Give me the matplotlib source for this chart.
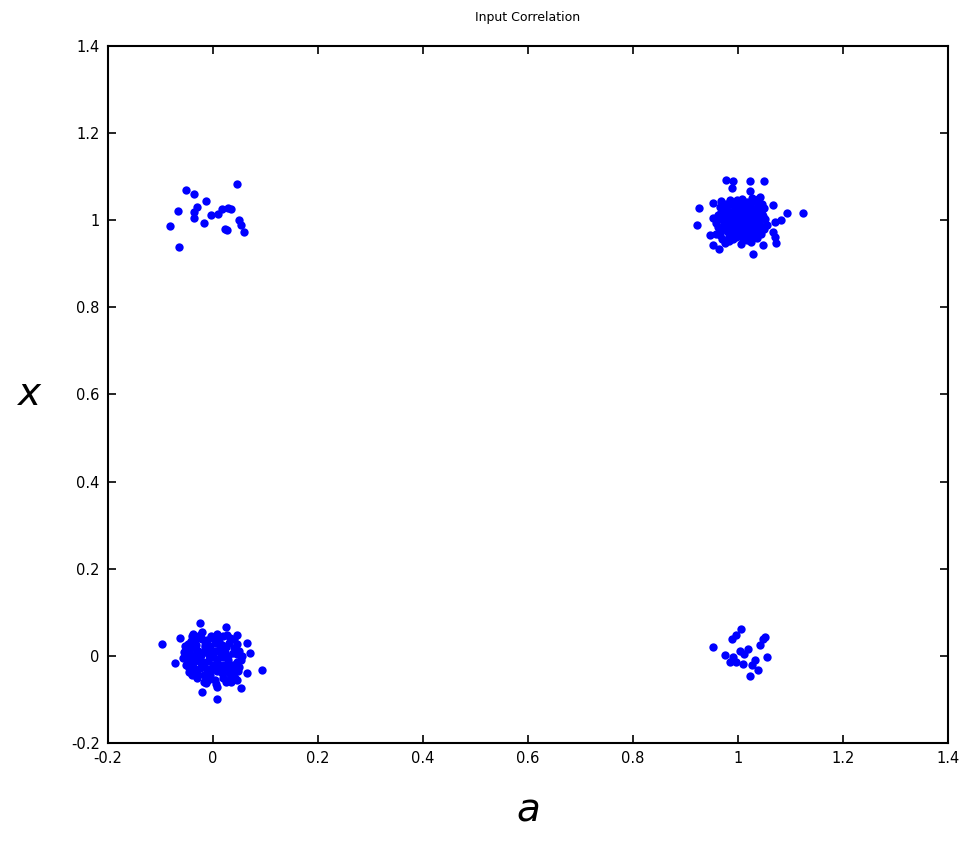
import matplotlib.pyplot as plt

# cluster near (0, 1)
tl_x = [-0.051, 0.045, -0.066, -0.082, -0.064, -0.031, -0.013, -0.036, -0.018, -0.003,
        0.017, 0.029, 0.027, 0.050, 0.059, 0.053, -0.036, 0.022, 0.010, -0.036, 0.035]
tl_y = [1.069, 1.083, 1.022, 0.987, 0.939, 1.031, 1.043, 1.004, 0.993, 1.012,
        1.025, 1.027, 0.978, 1.000, 0.974, 0.989, 1.018, 0.980, 1.015, 1.060, 1.025]

# cluster near (1, 0)
br_x = [0.953, 1.005, 0.997, 0.988, 1.047, 1.052, 1.042, 0.975, 1.004, 1.020,
        0.984, 0.997, 1.010, 1.032, 1.055, 1.039, 1.022, 0.990, 1.026, 1.012]
br_y = [0.020, 0.062, 0.048, 0.039, 0.039, 0.043, 0.025, 0.002, 0.011, 0.015,
        -0.013, -0.013, -0.019, -0.009, -0.002, -0.033, -0.046, -0.002, -0.020, 0.004]

# dense cluster near (1, 1)
tr_x = [0.977, 0.990, 0.988, 1.023, 1.050, 1.022, 1.042, 0.926, 0.953, 1.067,
        1.093, 1.123, 0.921, 1.070, 1.082, 1.067, 1.070, 1.073, 0.947, 0.966,
        0.953, 0.964, 1.048, 1.028,
        0.962, 0.971, 0.978, 0.985, 0.992, 0.998, 1.004, 1.011, 1.017, 1.024,
        1.031, 1.038, 1.045, 1.052, 0.958, 0.966, 0.974, 0.981, 0.989, 0.995,
        1.002, 1.008, 1.015, 1.021, 1.028, 1.035, 1.042, 1.049, 0.969, 0.983,
        0.996, 1.010, 1.024, 1.037, 0.977, 0.990, 1.006, 1.019, 1.033, 1.046,
        0.953, 1.000, 1.013, 0.986, 1.027, 1.040, 0.965, 0.999,
        0.960, 0.972, 0.980, 0.994, 1.007, 1.016, 1.030, 1.044, 1.004, 0.993,
        0.982, 0.995, 1.017, 1.030, 1.044, 1.005, 0.973, 0.958, 1.055, 1.012,
        0.985, 1.026, 1.039, 0.968, 1.050, 0.990, 1.018, 1.008, 0.975, 1.036,
        0.975, 0.985, 0.997, 1.010, 1.020, 1.033, 0.980, 0.992, 1.003, 1.015,
        1.027, 1.040, 0.968, 1.000, 1.012, 1.025, 0.988, 1.048, 0.962, 1.022,
        0.978, 1.035]
tr_y = [1.092, 1.089, 1.073, 1.090, 1.090, 1.066, 1.054, 1.027, 1.039, 1.035,
        1.017, 1.016, 0.989, 0.997, 1.000, 0.974, 0.962, 0.947, 0.966, 0.965,
        0.943, 0.935, 0.943, 0.922,
        1.012, 1.025, 1.038, 1.005, 1.021, 1.046, 1.032, 1.018, 1.041, 1.027,
        1.010, 1.030, 1.015, 1.002, 0.993, 0.978, 0.996, 0.984, 0.970, 0.989,
        1.003, 0.981, 0.996, 0.967, 0.985, 0.974, 0.990, 0.979, 0.958, 0.952,
        0.961, 0.955, 0.950, 0.960, 1.013, 1.035, 1.013, 1.007, 1.043, 1.037,
        1.005, 0.975, 0.968, 0.992, 0.998, 1.003, 1.030, 1.012,
        1.000, 1.004, 1.024, 1.000, 0.992, 1.026, 1.020, 1.024, 1.022, 1.010,
        0.964, 0.978, 0.980, 0.962, 0.968, 0.945, 0.986, 0.968, 0.990, 1.036,
        1.047, 1.050, 1.048, 1.045, 1.028, 0.958, 0.955, 1.048, 0.947, 0.985,
        0.995, 1.015, 1.030, 1.005, 1.015, 1.000, 0.975, 0.985, 0.965, 0.975,
        0.970, 0.980, 1.020, 0.995, 1.028, 1.040, 1.042, 1.010, 0.985, 0.992,
        1.030, 1.018]

# dense cluster near (0, 0)
bl_x = [-0.025, 0.025, -0.098, -0.062, -0.038, 0.045, 0.064, 0.070, -0.072, 0.093,
        0.064, 0.045, 0.054, -0.018, -0.020, 0.007, 0.007, -0.044,
        -0.055, -0.048, -0.041, -0.035, -0.029, -0.022, -0.016, -0.009, -0.003, 0.004,
        0.011, 0.018, 0.025, 0.032, 0.039, 0.046, 0.053, -0.052, -0.045, -0.038,
        -0.031, -0.024, -0.017, -0.010, -0.004, 0.003, 0.010, 0.017, 0.024, 0.031,
        0.038, 0.045, 0.050, -0.058, -0.020, 0.008, 0.026, -0.034, -0.012, 0.000,
        0.015, 0.021, -0.027, -0.006, 0.036, -0.042, 0.042, -0.014,
        -0.050, -0.044, -0.036, -0.028, -0.020, -0.015, -0.005, 0.005, 0.014, 0.022,
        0.030, 0.040, -0.046, -0.036, -0.020, -0.012, 0.000, 0.008, 0.020, 0.028,
        0.035, 0.048, 0.055, -0.010, -0.030, 0.012, -0.008, 0.030, -0.040, 0.005,
        0.040, -0.054,
        -0.045, -0.032, -0.025, -0.018, -0.005, 0.008, 0.018, 0.028, 0.038, 0.045,
        -0.040, -0.025, -0.010, 0.012, 0.020, 0.030, -0.050, 0.050, 0.002, -0.038,
        0.025, -0.015]
bl_y = [0.076, 0.067, 0.027, 0.041, 0.051, 0.048, 0.029, 0.006, -0.017, -0.032,
        -0.040, -0.055, -0.074, -0.059, -0.084, -0.071, -0.098, -0.036,
        0.010, 0.028, -0.005, 0.018, 0.040, 0.003, 0.025, -0.012, 0.046, 0.012,
        0.033, -0.002, 0.020, 0.041, 0.006, 0.027, -0.010, -0.020, -0.038, -0.015,
        -0.050, -0.028, -0.044, 0.007, -0.030, -0.056, -0.018, -0.040, -0.060, -0.025,
        -0.045, -0.015, 0.012, -0.005, 0.055, 0.050, 0.048, 0.002, 0.036, -0.002,
        0.002, -0.022, -0.012, -0.045, -0.032, 0.035, -0.050, -0.062,
        0.000, 0.020, 0.030, 0.012, 0.038, 0.012, 0.022, 0.030, 0.018, 0.008,
        0.030, 0.018, -0.028, -0.030, -0.015, -0.030, -0.020, -0.035, -0.050, -0.010,
        -0.060, -0.035, 0.000, -0.055, -0.040, 0.040, 0.002, -0.040, 0.045, -0.065,
        0.038, 0.022,
        0.008, 0.025, -0.005, -0.025, 0.010, -0.008, 0.025, 0.000, -0.020, 0.005,
        -0.045, 0.048, -0.040, -0.025, 0.045, -0.055, -0.010, -0.025, 0.038, -0.025,
        -0.030, 0.020]

ticks = [-0.2, 0, 0.2, 0.4, 0.6, 0.8, 1, 1.2, 1.4]
tick_labels = ["-0.2", "0", "0.2", "0.4", "0.6", "0.8", "1", "1.2", "1.4"]

fig = plt.figure(figsize=(9.71, 8.56), dpi=100)
ax = fig.add_axes([0.1112, 0.1320, 0.8651, 0.8143])

for xs, ys in [(tl_x, tl_y), (tr_x, tr_y), (bl_x, bl_y), (br_x, br_y)]:
    ax.scatter(xs, ys, s=36, color="#0000ff", marker="o", linewidths=0)

ax.set_xlim(-0.2, 1.4)
ax.set_ylim(-0.2, 1.4)
ax.set_xticks(ticks)
ax.set_xticklabels(tick_labels)
ax.set_yticks(ticks)
ax.set_yticklabels(tick_labels)
ax.tick_params(direction="in", length=6, width=1.2, top=True, right=True,
               labelsize=10.5, pad=6)
for sp in ax.spines.values():
    sp.set_linewidth(1.5)

ax.set_title("Input Correlation", fontsize=9, pad=18)
ax.set_xlabel("a", fontsize=28, style="italic", labelpad=18)
ax.set_ylabel("x", fontsize=28, style="italic", rotation=0, labelpad=30, va="center")

fig.savefig("out.png", dpi=100)
